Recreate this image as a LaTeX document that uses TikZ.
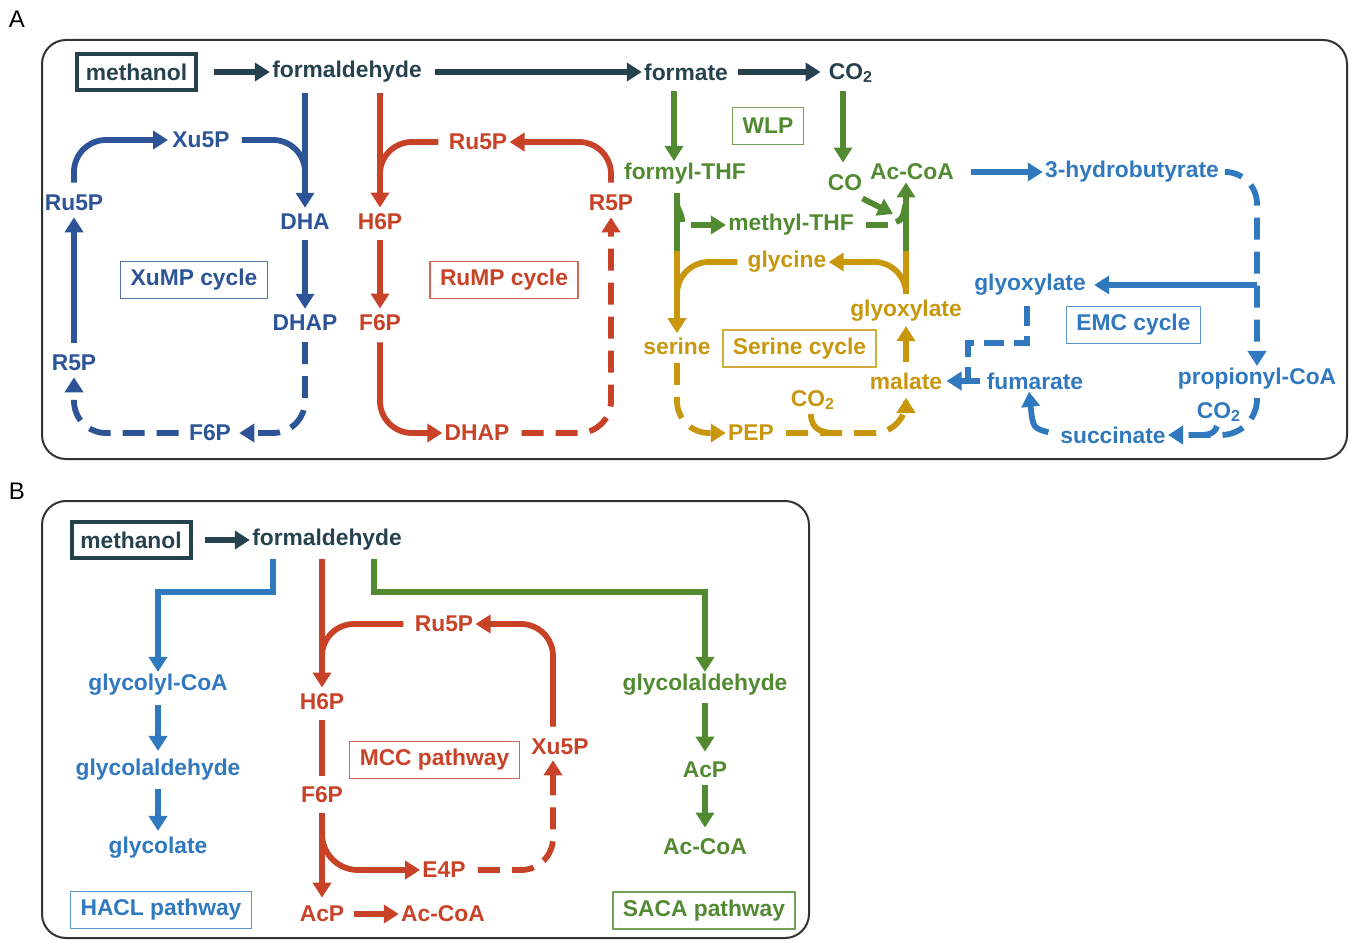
\documentclass[tikz,border=0pt]{standalone}
\usepackage{fontspec}
\setmainfont{Liberation Sans}
\usetikzlibrary{arrows.meta,calc}
\definecolor{dk}{RGB}{38,66,78}
\definecolor{xb}{RGB}{44,84,150}
\definecolor{rd}{RGB}{200,66,40}
\definecolor{gn}{RGB}{82,138,50}
\definecolor{gd}{RGB}{200,151,14}
\definecolor{lb}{RGB}{48,121,190}
\begin{document}
\begin{tikzpicture}[x=0.5pt,y=-0.5pt,
 t/.style={text=#1,font=\bfseries\fontsize{11.4}{13}\selectfont,inner sep=1pt},
 lbox/.style={draw=#1!80,text=#1,line width=0.6pt,font=\bfseries\fontsize{11.4}{13}\selectfont,inner xsep=5pt,inner ysep=0pt,minimum height=18.5pt},
 mbox/.style={draw=dk,text=dk,line width=2pt,font=\bfseries\fontsize{11.4}{13}\selectfont,minimum width=59.5pt,minimum height=18pt,inner sep=0pt},
 ln/.style={draw=#1,line width=2.9pt},
 ar/.style={draw=#1,line width=2.9pt,-{Triangle[length=7.5pt,width=9pt]}},
 dsh/.style={dash pattern=on 11pt off 6pt},
 rc/.style={rounded corners=16pt},
 panel/.style={draw=black!80,line width=1pt,rounded corners=12pt},
 plab/.style={font=\fontsize{12}{14}\selectfont,inner sep=0pt}]
\useasboundingbox (0,0) rectangle (1350,941);

% panels
\draw[panel] (42,40) rectangle (1347,459);
\draw[panel] (42,501) rectangle (809,938);
\node[plab] (labA) at (17,19) {A};
\node[plab] (labB) at (17,491) {B};

% ---------------- Panel A: top row
\node[mbox] (methA) at (136.5,72) {methanol};
\node[t=dk] (formaldA) at (347,72) {formaldehyde};
\node[t=dk] (formateA) at (686,72) {formate};
\node[t=dk] (co2A) at (851,73) {CO\textsubscript{2}};
\draw[ar=dk,shorten <=8pt] (methA.east) -- (methA.east -| formaldA.west);
\draw[ar=dk,shorten <=5.5pt] (formaldA.east) -- (formaldA.east -| formateA.west);
\draw[ar=dk,shorten <=4pt,shorten >=3pt] (formateA.east) -- (formateA.east -| co2A.west);

% XuMP cycle
\node[t=xb] (xu5pA) at (201,140) {Xu5P};
\node[t=xb] (ru5pA) at (74,203) {Ru5P};
\node[t=xb] (dhaA) at (305,222) {DHA};
\node[t=xb] (dhapA) at (305,323) {DHAP};
\node[t=xb] (r5pA) at (74,363) {R5P};
\node[t=xb] (f6pA) at (210,433) {F6P};
\node[lbox=xb,minimum width=72.5pt] (xumpA) at (194,280) {XuMP cycle};
\draw[ar=xb,shorten <=4pt,shorten >=2pt] (formaldA.south -| dhaA) -- (dhaA);
\draw[ln=xb,rc,shorten <=5pt] (xu5pA.east) -- (xu5pA.east -| dhaA) -- ++(0,60);
\draw[ar=xb,rc,shorten <=5pt,shorten >=1pt] (ru5pA.north) -- (ru5pA.north |- xu5pA) -- (xu5pA.west);
\draw[ar=xb,shorten <=5pt,shorten >=2pt] (r5pA) -- (ru5pA);
\draw[ar=xb,shorten <=4pt,shorten >=2pt] (dhaA) -- (dhapA);
\draw[ar=xb,dsh,rc,shorten <=4.5pt,shorten >=3pt] (dhapA.south) -- (dhapA.south |- f6pA) -- (f6pA.east);
\draw[ar=xb,dsh,rc,shorten <=4pt,shorten >=2pt] (f6pA.west) -- (f6pA.west -| r5pA) -- (r5pA.south);

% RuMP cycle
\node[t=rd] (ru5pR) at (478,142) {Ru5P};
\node[t=rd] (h6pR) at (380,222) {H6P};
\node[t=rd] (f6pR) at (380,323) {F6P};
\node[t=rd] (dhapR) at (477,433) {DHAP};
\node[t=rd] (r5pR) at (611,203) {R5P};
\node[lbox=rd,minimum width=74pt] (rumpR) at (504,280) {RuMP cycle};
\draw[ar=rd,shorten <=4pt,shorten >=2pt] (formaldA.south -| h6pR) -- (h6pR);
\draw[ln=rd,rc,shorten <=4pt] (ru5pR.west) -- (ru5pR.west -| h6pR) -- ++(0,50);
\draw[ar=rd,shorten <=4pt,shorten >=2pt] (h6pR) -- (f6pR);
\draw[ar=rd,rc,shorten <=4.5pt] (f6pR.south) -- (f6pR.south |- dhapR) -- (dhapR.west);
\draw[ar=rd,dsh,rc,shorten <=5pt,shorten >=2pt] (dhapR.east) -- (dhapR.east -| r5pR) -- (r5pR.south);
\draw[ar=rd,rc,shorten <=5pt] (r5pR.north) -- (r5pR.north |- ru5pR) -- (ru5pR.east);

% WLP
\node[lbox=gn,minimum width=34.5pt] (wlpG) at (768,126) {WLP};
\node[t=gn] (fthfG) at (685,174) {formyl-THF};
\node[t=gn] (coG) at (845,183) {CO};
\node[t=gn] (accoaG) at (912,172) {Ac-CoA};
\node[t=gn] (mthfG) at (791,225) {methyl-THF};
\coordinate (sj) at (677,251);
\coordinate (aj) at (906,251);
\coordinate (acjoin) at (893,214);
\draw[ar=gn,shorten <=4pt] ([xshift=-6pt]formateA.south) -- ([xshift=-5.5pt]fthfG.north);
\draw[ar=gn,shorten <=3pt,shorten >=5pt] ([xshift=-4pt]co2A.south) -- ([xshift=-1pt]coG.north);
\draw[ln=gn,shorten <=3pt] ([xshift=-4pt]fthfG.south) -- (sj);
\draw[ln=gn] (677,204) .. controls (678,212) and (682,212) .. (682,222);
\draw[ar=gn] ([xshift=-17.5pt]mthfG.west) -- (mthfG.west);
\draw[ln=gn] ([xshift=5pt]mthfG.east) -- ++(22,0);
\draw[ln=gn] (896,222) .. controls (902,221) and (904,214) .. (905,205);
\draw[ar=gn] (aj) -- ([xshift=-3pt]accoaG.south);
\draw[ar=gn] ([xshift=-1pt,yshift=-2.5pt]coG.south east) -- (acjoin);

% Serine cycle
\node[t=gd] (glyG) at (787,262) {glycine};
\node[t=gd] (serG) at (677,346) {serine};
\node[t=gd] (glyoxG) at (906,311) {glyoxylate};
\node[t=gd] (malG) at (906,381) {malate};
\node[t=gd] (pepG) at (751,433) {PEP};
\node[t=gd] (co2G) at (813,400) {CO\textsubscript{2}};
\node[lbox=gd,minimum width=76.5pt] (serbox) at (799.5,348.5) {Serine cycle};
\draw[ar=gd,shorten >=1pt] (sj) -- (serG);
\draw[ln=gd,rc,shorten <=4pt] (glyG.west) -- (glyG.west -| sj) -- ++(0,45);
\draw[ln=gd,shorten <=3pt] (glyoxG.north) -- (aj);
\draw[ar=gd,rc,shorten <=3pt] (glyoxG.north) -- (glyoxG.north |- glyG) -- (glyG.east);
\draw[ar=gd,shorten <=4pt,shorten >=1pt] (malG) -- (glyoxG);
\draw[ar=gd,dsh,rc,shorten <=3pt] (serG.south) -- (serG.south |- pepG) -- (pepG.west);
\draw[ar=gd,dsh,rc,shorten <=5pt,shorten >=3pt] (pepG.east) -- (pepG.east -| malG) -- (malG.south);
\draw[ln=gd] ([xshift=-1pt,yshift=-1pt]co2G.south) .. controls +(0,16) and +(-12,0) .. (835,433);

% EMC cycle
\node[t=lb] (hbL) at (1132,172) {3-hydrobutyrate};
\node[t=lb] (glyoxL) at (1030,285) {glyoxylate};
\node[lbox=lb,minimum width=66.5pt] (emcL) at (1133.5,325) {EMC cycle};
\node[t=lb] (propL) at (1257,379) {propionyl-CoA};
\node[t=lb] (co2L) at (1219,412) {CO\textsubscript{2}};
\node[t=lb] (sucL) at (1113,435) {succinate};
\node[t=lb] (fumL) at (1035,381) {fumarate};
\coordinate (ej) at (1257,285);
\coordinate (gc) at (1027,343);
\coordinate (mj) at (968,381);
\draw[ar=lb,shorten <=7.5pt] (accoaG.east) -- (accoaG.east -| hbL.west);
\draw[ar=lb,dsh,rc,shorten <=4pt] (hbL.east) -- (hbL.east -| propL) -- (propL.north);
\draw[ar=lb,shorten >=3pt] (ej) -- (glyoxL.east);
\draw[ar=lb,dsh,rounded corners=18pt,shorten <=3pt] (propL.south) -- (propL.south |- sucL) -- (sucL.east);
\draw[ln=lb] ([xshift=-1pt,yshift=-1pt]co2L.south) .. controls +(-3,10) and +(12,0) .. (1192,435);
\draw[ar=lb,shorten <=5pt] (sucL.west) .. controls (1033,428) .. ([xshift=-3pt]fumL.south);
\draw[ar=lb,shorten <=2pt,shorten >=1pt] (fumL.west) -- (malG.east);
\draw[ln=lb,dash pattern=on 10pt off 5pt,shorten <=4pt] (glyoxL.south -| gc) -- (gc) -| (mj);

% ---------------- Panel B
\node[mbox] (methB) at (131,540) {methanol};
\node[t=dk] (formaldB) at (327,540) {formaldehyde};
\draw[ar=dk,shorten <=6pt] (methB.east) -- (methB.east -| formaldB.west);

% HACL
\node[t=lb] (glycoylB) at (158,685) {glycolyl-CoA};
\node[t=lb] (glycaldB) at (158,770) {glycolaldehyde};
\node[t=lb] (glycolB) at (158,848) {glycolate};
\node[lbox=lb,minimum width=90pt] (haclB) at (161,910) {HACL pathway};
\coordinate (bk1) at (273,592);
\draw[ar=lb,shorten <=3pt] (formaldB.south -| bk1) -- (bk1) -| (glycoylB.north);
\draw[ar=lb,shorten <=3.5pt,shorten >=3pt] (glycoylB) -- (glycaldB);
\draw[ar=lb,shorten <=3pt,shorten >=2pt] (glycaldB) -- (glycolB);

% MCC
\node[t=rd] (h6pB) at (322,702) {H6P};
\node[t=rd] (f6pB) at (322,795) {F6P};
\node[t=rd] (acpB) at (322,914) {AcP};
\node[t=rd] (accoaB) at (443,914) {Ac-CoA};
\node[t=rd] (ru5pB) at (444,624) {Ru5P};
\node[t=rd] (xu5pB) at (560,747) {Xu5P};
\node[t=rd] (e4pB) at (444,870) {E4P};
\node[lbox=rd,minimum width=84.5pt] (mccB) at (434.5,760) {MCC pathway};
\coordinate (xs) at ($(xu5pB.south)+(-7,3)$);
\coordinate (xn) at ($(xu5pB.north)+(-7,-10)$);
\draw[ar=rd,shorten <=3pt,shorten >=2pt] (formaldB.south -| h6pB) -- (h6pB);
\draw[ln=rd,rc,shorten <=4.5pt] (ru5pB.west) -- (ru5pB.west -| h6pB) -- ++(0,50);
\draw[ln=rd,shorten <=4pt,shorten >=4.5pt] (h6pB) -- (f6pB);
\draw[ar=rd,shorten <=4pt,shorten >=3pt] (f6pB) -- (acpB);
\draw[ar=rd,rounded corners=18pt,shorten <=12pt] (f6pB.south) -- (f6pB.south |- e4pB) -- (e4pB.west);
\draw[ar=rd,shorten <=3.5pt] (acpB) -- (accoaB);
\draw[ar=rd,dsh,rc,shorten <=5pt] (e4pB.east) -- (e4pB.east -| xs) -- (xs);
\draw[ar=rd,rc] (xn) -- (xn |- ru5pB) -- (ru5pB.east);

% SACA
\node[t=gn] (glycaldG) at (705,685) {glycolaldehyde};
\node[t=gn] (acpG) at (705,770) {AcP};
\node[t=gn] (accoaGB) at (705,847) {Ac-CoA};
\node[lbox=gn,minimum width=91pt] (sacaB) at (704,910.5) {SACA pathway};
\coordinate (bk2) at (374,592);
\draw[ar=gn,shorten <=3pt] (formaldB.south -| bk2) -- (bk2) -| (glycaldG.north);
\draw[ar=gn,shorten <=2.5pt,shorten >=4pt] (glycaldG) -- (acpG);
\draw[ar=gn,shorten <=2.5pt,shorten >=4.5pt] (acpG) -- (accoaGB);
\end{tikzpicture}
\end{document}
